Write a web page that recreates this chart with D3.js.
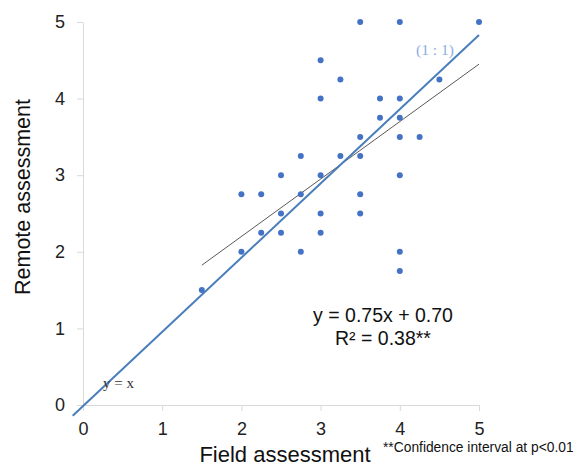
<!DOCTYPE html>
<html>
<head>
<meta charset="utf-8">
<script src="https://cdn.jsdelivr.net/npm/d3@7"></script>
<style>
  body { margin: 0; background: #fff; }
  text { font-family: "Liberation Sans", Arial, sans-serif; }
</style>
</head>
<body>
<svg id="chart" width="573" height="469"></svg>
<script>
// field / remote assessment pairs
const fieldValues = [1.5, 2, 2, 2.25, 2.25, 2.5, 2.5, 2.5, 2.75, 2.75, 2.75,
    3, 3, 3, 3, 3, 3.25, 3.25, 3.5, 3.5, 3.5, 3.5, 3.5, 3.75, 3.75,
    4, 4, 4, 4, 4, 4, 4, 4.25, 4.5, 5];
const remoteValues = [1.5, 2.75, 2, 2.75, 2.25, 3, 2.5, 2.25, 3.25, 2.75, 2,
    4.5, 4, 3, 2.5, 2.25, 4.25, 3.25, 5, 3.5, 3.25, 2.75, 2.5, 4, 3.75,
    5, 4, 3.75, 3.5, 3, 2, 1.75, 3.5, 4.25, 5];
const tickValues = [0, 1, 2, 3, 4, 5];
const fitSlope = 0.75;
const fitIntercept = 0.70;
const fitRange = [1.5, 5];
const oneToOneLine = [[-0.13, -0.14], [5, 4.83]];

const svg = d3.select('#chart');
const x = d3.scaleLinear().domain([0, 5]).range([83, 479]);
const y = d3.scaleLinear().domain([0, 5]).range([405, 22]);
const axisColor = '#d9d9d9';

const xAxis = svg.append('g')
    .attr('transform', `translate(0,${y(0)})`)
    .call(d3.axisBottom(x).tickValues(tickValues).tickFormat(d3.format('d'))
        .tickSize(6).tickSizeOuter(0).tickPadding(11));
const yAxis = svg.append('g')
    .attr('transform', `translate(${x(0)},0)`)
    .call(d3.axisLeft(y).tickValues(tickValues).tickFormat(d3.format('d'))
        .tickSize(6).tickSizeOuter(0).tickPadding(10));
[xAxis, yAxis].forEach(axis => {
    axis.select('.domain').attr('stroke', axisColor);
    axis.selectAll('.tick line').attr('stroke', axisColor);
    axis.selectAll('.tick text')
        .attr('font-size', 18)
        .attr('fill', '#222')
        .style('font-family', '"Liberation Sans", Arial, sans-serif');
});
yAxis.selectAll('.tick text').attr('x', -18);

// regression line
const line = d3.line().x(d => x(d[0])).y(d => y(d[1]));
svg.append('path')
    .datum(fitRange.map(v => [v, fitSlope * v + fitIntercept]))
    .attr('d', line)
    .attr('fill', 'none')
    .attr('stroke', '#595959')
    .attr('stroke-width', 1);

// 1:1 line
svg.append('path')
    .datum(oneToOneLine)
    .attr('d', line)
    .attr('fill', 'none')
    .attr('stroke', '#4a7ebb')
    .attr('stroke-width', 2);

svg.append('g').selectAll('circle')
    .data(fieldValues.map((f, i) => [f, remoteValues[i]]))
    .enter()
    .append('circle')
    .attr('cx', d => x(d[0]))
    .attr('cy', d => y(d[1]))
    .attr('r', 3)
    .attr('fill', '#4472c4');

svg.append('text')
    .attr('x', 435).attr('y', 55)
    .attr('text-anchor', 'middle')
    .attr('font-size', 15.5)
    .style('font-family', '"Liberation Serif", "Times New Roman", serif')
    .attr('fill', '#8caee0')
    .text('(1 : 1)');

svg.append('text')
    .attr('x', 103).attr('y', 388)
    .attr('font-size', 15)
    .style('font-family', '"Liberation Serif", "Times New Roman", serif')
    .attr('fill', '#333')
    .text('y = x');

svg.append('text')
    .attr('x', 383).attr('y', 322)
    .attr('text-anchor', 'middle')
    .attr('font-size', 19.5)
    .attr('fill', '#111')
    .text('y = 0.75x + 0.70');
svg.append('text')
    .attr('x', 383).attr('y', 345)
    .attr('text-anchor', 'middle')
    .attr('font-size', 19.5)
    .attr('fill', '#111')
    .text('R² = 0.38**');

svg.append('text')
    .attr('x', 285).attr('y', 462)
    .attr('text-anchor', 'middle')
    .attr('font-size', 22)
    .attr('fill', '#111')
    .text('Field assessment');

svg.append('text')
    .attr('transform', 'translate(30,197) rotate(-90)')
    .attr('text-anchor', 'middle')
    .attr('font-size', 21.5)
    .attr('fill', '#111')
    .text('Remote assessment');

svg.append('text')
    .attr('x', 383).attr('y', 452)
    .attr('font-size', 13.8)
    .attr('fill', '#111')
    .text('**Confidence interval at p<0.01');
</script>
</body>
</html>
